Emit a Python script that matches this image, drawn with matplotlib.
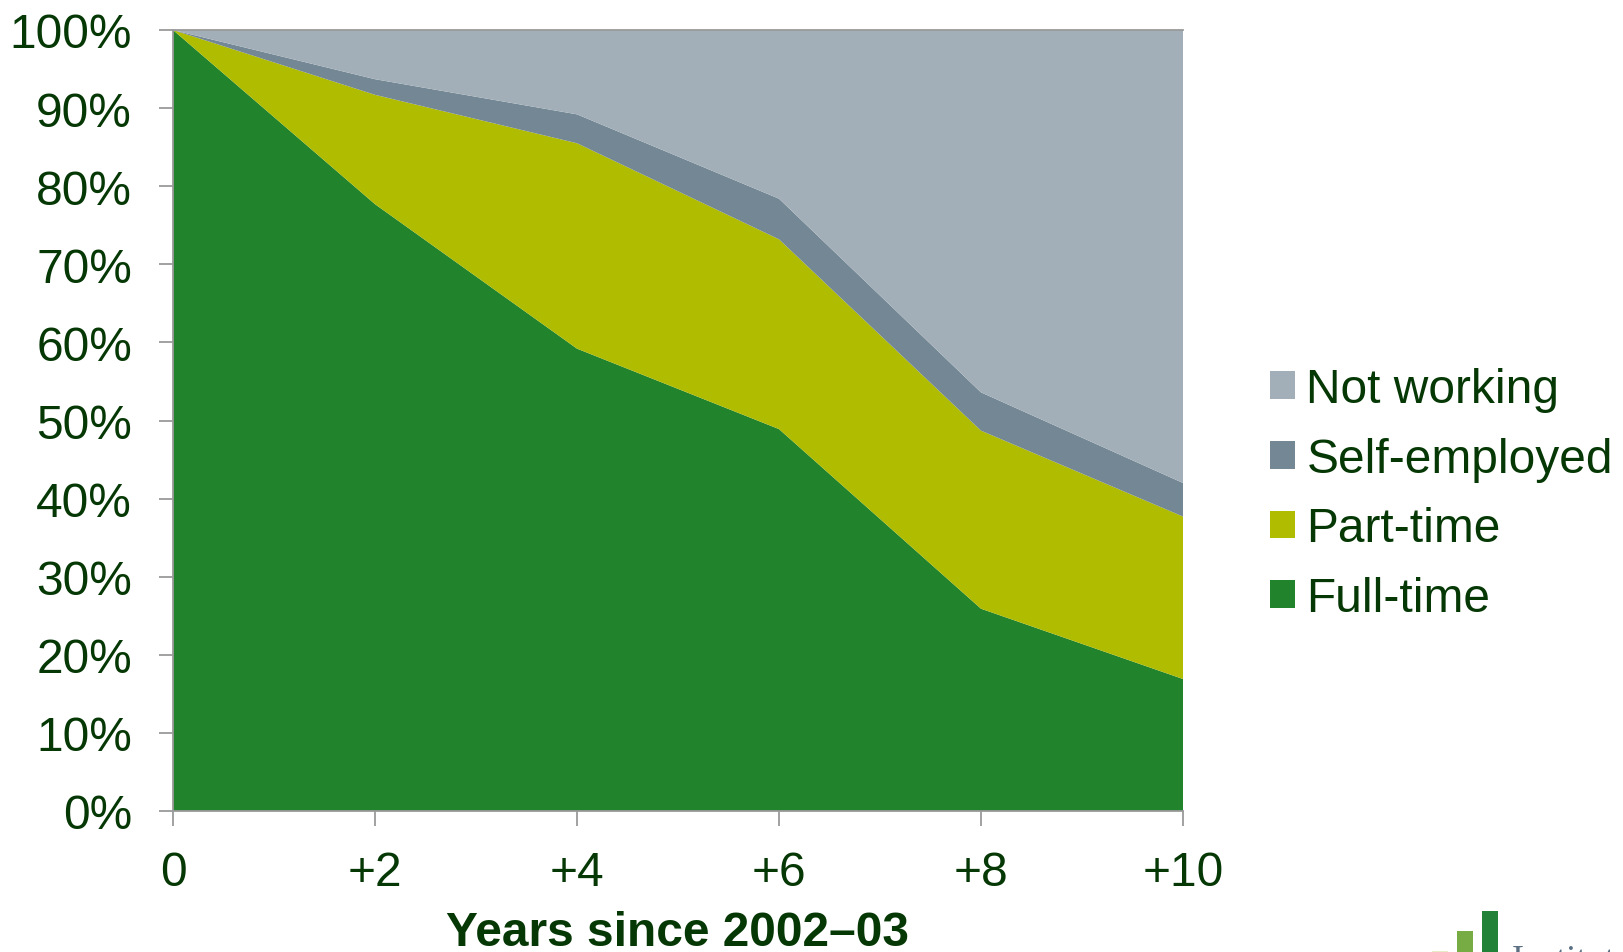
import matplotlib
matplotlib.use("Agg")
import matplotlib.pyplot as plt
from matplotlib.patches import Patch, Rectangle

# Years since 2002-03 and share of the group in each labour-market state (%)
years = [0, 2, 4, 6, 8, 10]
year_labels = ["0", "+2", "+4", "+6", "+8", "+10"]
full_time = [100.0, 77.7, 59.2, 48.9, 25.9, 16.9]
part_time = [0.0, 14.0, 26.3, 24.3, 22.8, 20.8]
self_employed = [0.0, 2.0, 3.7, 5.2, 4.9, 4.3]
not_working = [0.0, 6.3, 10.8, 21.6, 46.4, 58.0]

series_names = ["Full-time", "Part-time", "Self-employed", "Not working"]
series_colors = ["#21842c", "#b0bc00", "#738794", "#a3afb8"]

text_color = "#053805"
axis_grey = "#9a9a9a"
plt.rcParams["font.family"] = ["Liberation Sans", "DejaVu Sans"]

fig = plt.figure(figsize=(16.24, 9.53), dpi=100)
ax = fig.add_axes([173 / 1624, 1 - 812 / 953, 1010 / 1624, 781 / 953])

ax.stackplot(years, full_time, part_time, self_employed, not_working,
             colors=series_colors, linewidth=0, antialiased=True)

ax.set_xlim(0, 10)
ax.set_ylim(0, 100)
ax.set_xticks(years)
ax.set_xticklabels(year_labels)
ax.set_yticks(range(0, 101, 10))
ax.set_yticklabels([f"{v}%" for v in range(0, 101, 10)])

ax.tick_params(axis="y", length=10, width=1.3, color=axis_grey, pad=19.5,
               labelsize=34.5, labelcolor=text_color)
ax.tick_params(axis="x", length=11, width=1.3, color=axis_grey, pad=17,
               labelsize=34.5, labelcolor=text_color)

for side in ("left", "bottom", "top"):
    ax.spines[side].set_color(axis_grey)
    ax.spines[side].set_linewidth(1.3)
ax.spines["right"].set_visible(False)

ax.set_xlabel("Years since 2002\u201303", fontsize=34.5, fontweight="bold",
              color=text_color, labelpad=11)

handles = [Patch(facecolor=c, edgecolor="none") for c in series_colors]
leg = fig.legend(handles[::-1], series_names[::-1],
                 loc="center left", bbox_to_anchor=(1270 / 1624, 1 - 495 / 953),
                 frameon=False, fontsize=34.5, handlelength=0.52, handleheight=0.52,
                 handletextpad=0.24, labelspacing=0.52, borderpad=0,
                 borderaxespad=0)
for t in leg.get_texts():
    t.set_color(text_color)

# Institute logo in the lower-right corner, partly cut off by the page edge
logo_bars = [(1432, 952, "#e6ecc4"), (1457, 932, "#76ac43"), (1482, 912, "#228238")]
for x0, top, col in logo_bars:
    fig.add_artist(Rectangle((x0 / 1624, 0), 16 / 1624, 1 - top / 953,
                             transform=fig.transFigure, facecolor=col,
                             edgecolor="none"))
fig.text(1512 / 1624, 1 - 945 / 953, "Institute for Fiscal Studies",
         fontsize=26, family="Liberation Serif", color="#5b7083",
         ha="left", va="top")

fig.savefig("out.png", dpi=100)
